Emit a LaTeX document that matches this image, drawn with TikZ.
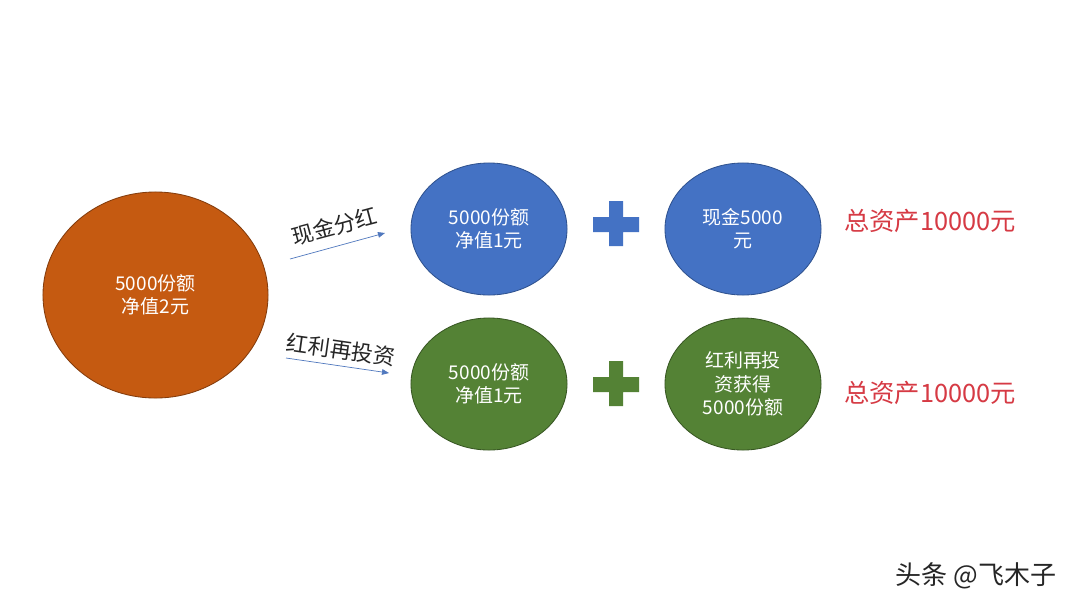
\documentclass[tikz,border=0pt]{standalone}
\usepackage{fontspec}
\setmainfont{Noto Sans CJK SC}
\usetikzlibrary{arrows.meta}
\definecolor{orng}{RGB}{197,90,17}
\definecolor{orngb}{RGB}{132,60,12}
\definecolor{blu}{RGB}{68,114,196}
\definecolor{blub}{RGB}{47,82,143}
\definecolor{grn}{RGB}{84,130,53}
\definecolor{grnb}{RGB}{56,87,35}
\definecolor{redtxt}{RGB}{214,58,68}
\definecolor{arr}{RGB}{80,120,190}
\tikzset{
  bubble/.style={ellipse, draw, line width=0.6pt, text=white, align=center,
    font=\fontsize{13.5}{16.5}\selectfont, inner sep=0pt},
  lbl/.style={font=\fontsize{15.5}{18}\selectfont, text=black!85},
  total/.style={font=\fontsize{18}{21}\selectfont, text=redtxt},
  flow/.style={draw=arr, line width=0.5pt, -{Triangle[length=5pt,width=4pt]}},
}
\usetikzlibrary{shapes.geometric}
\newcommand{\plussign}[3]{%
  \fill[#3] (#1-23,#2-7) -- (#1-7,#2-7) -- (#1-7,#2-23) -- (#1+7,#2-23) -- (#1+7,#2-7)
    -- (#1+23,#2-7) -- (#1+23,#2+8) -- (#1+7,#2+8) -- (#1+7,#2+22) -- (#1-7,#2+22)
    -- (#1-7,#2+8) -- (#1-23,#2+8) -- cycle;}
\begin{document}
\begin{tikzpicture}[x=0.025cm, y=-0.025cm]
\useasboundingbox (0,0) rectangle (1080,608);
\fill[white] (0,0) rectangle (1080,608);
% main ellipse
\node[bubble, fill=orng, draw=orngb, minimum width=225\pgflinewidth*0+5.625cm, minimum height=5.15cm] (src) at (155.5,295) {5000份额\\净值2元};
% blue row
\node[bubble, fill=blu, draw=blub, minimum width=3.9cm, minimum height=3.3cm] (b1) at (489,229) {5000份额\\净值1元};
\node[bubble, fill=blu, draw=blub, minimum width=3.9cm, minimum height=3.3cm] (b2) at (743,229) {现金5000\\元};
% green row
\node[bubble, fill=grn, draw=grnb, minimum width=3.9cm, minimum height=3.3cm] (g1) at (489,384) {5000份额\\净值1元};
\node[bubble, fill=grn, draw=grnb, minimum width=3.9cm, minimum height=3.3cm] (g2) at (743,384) {红利再投\\资获得\\5000份额};
% plus signs
\plussign{616}{224}{blu}
\plussign{616}{384}{grn}
% arrows
\coordinate (a1s) at (290,259);
\coordinate (a1e) at (385,233);
\coordinate (a2s) at (286,358);
\coordinate (a2e) at (389,373);
\draw[flow] (a1s) -- (a1e);
\draw[flow] (a2s) -- (a2e);
\node[lbl, rotate=15] (l1) at (334,226) {现金分红};
\node[lbl, rotate=-8] (l2) at (341,350) {红利再投资};
% totals
\node[total] (t1) at (930,221) {总资产10000元};
\node[total] (t2) at (930,393) {总资产10000元};
% watermark
\node[font=\fontsize{18.5}{21}\selectfont, text=black!85] (wm) at (976,576) {头条 @飞木子};
\end{tikzpicture}
\end{document}
